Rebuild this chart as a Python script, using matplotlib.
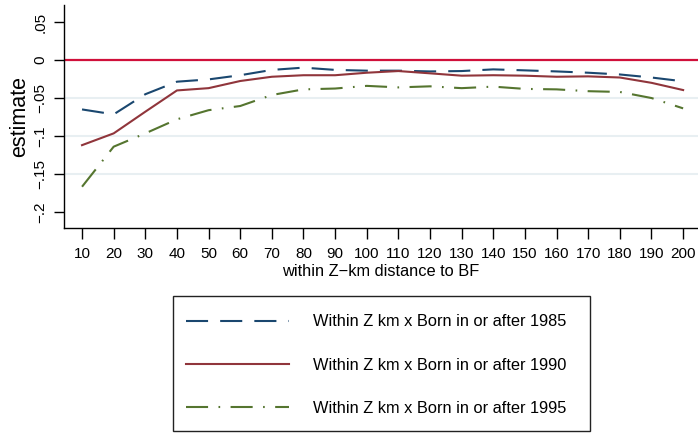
import numpy as np
import matplotlib.pyplot as plt
from matplotlib.patches import Rectangle

plt.rcParams['font.family'] = ['Liberation Sans', 'DejaVu Sans']

# distance bands (km) and estimates for each birth cohort cut-off
distance = [10, 20, 30, 40, 50, 60, 70, 80, 90, 100,
            110, 120, 130, 140, 150, 160, 170, 180, 190, 200]
est_1985 = [-0.065, -0.0715, -0.045, -0.0285, -0.0255, -0.020, -0.013, -0.010, -0.013, -0.014,
            -0.014, -0.015, -0.0145, -0.0123, -0.0136, -0.015, -0.0167, -0.019, -0.023, -0.028]
est_1990 = [-0.112, -0.0965, -0.068, -0.040, -0.037, -0.0276, -0.022, -0.020, -0.020, -0.0167,
            -0.0145, -0.0175, -0.0206, -0.020, -0.0206, -0.022, -0.0215, -0.023, -0.030, -0.0395]
est_1995 = [-0.1667, -0.114, -0.0965, -0.078, -0.066, -0.0605, -0.046, -0.0386, -0.0375, -0.034,
            -0.036, -0.0346, -0.037, -0.035, -0.038, -0.0386, -0.041, -0.042, -0.050, -0.0636]
labels = ['Within Z km x Born in or after 1985',
          'Within Z km x Born in or after 1990',
          'Within Z km x Born in or after 1995']

yticks = [0.05, 0, -0.05, -0.1, -0.15, -0.2]
ytick_labels = ['.05', '0', '\u2212.05', '\u2212.1', '\u2212.15', '\u2212.2']

W, H = 698, 434
fig = plt.figure(figsize=(W / 100, H / 100), dpi=100)
ax = fig.add_axes([64 / W, 1 - 228 / H, 1 - 64 / W, 223 / H])

# light horizontal grid at interior ticks
for g in [-0.05, -0.1, -0.15]:
    ax.axhline(g, color='#e8eff2', lw=1.5, zorder=0)

ax.axhline(0, color='#d0103a', lw=1.6, zorder=1)

lw = 1.5
l1, = ax.plot(distance, est_1985, color='#1a476f', lw=lw, linestyle=(0, (10.6, 5.8)))
l2, = ax.plot(distance, est_1990, color='#90353b', lw=lw, linestyle='-')
l3, = ax.plot(distance, est_1995, color='#55752f', lw=lw, linestyle=(0, (10.6, 5.0, 0.8, 5.0)))

ax.set_xlim(4.3, 204.7)
ax.set_ylim(-0.221, 0.0724)
ax.set_xticks(distance)
ax.set_yticks(yticks)
ax.set_yticklabels(ytick_labels, rotation=90, va='center')
ax.tick_params(axis='x', length=8, width=1, labelsize=11, pad=6)
ax.tick_params(axis='y', length=7.5, width=1, labelsize=11, pad=4.5)

for side in ['top', 'right']:
    ax.spines[side].set_visible(False)
for side in ['left', 'bottom']:
    ax.spines[side].set_linewidth(1)

ax.set_xlabel('within Z\u2212km distance to BF', fontsize=11.8, labelpad=2)
ax.set_ylabel('estimate', fontsize=15.5, labelpad=2.5)

# legend entries without frame; the box is drawn separately so the
# padding on the right can be wider than on the left
leg = fig.legend([l1, l2, l3], labels, loc='upper left',
                 bbox_to_anchor=(186 / W, 1 - 314.5 / H),
                 fontsize=11.8, frameon=False, handlelength=6.28,
                 handletextpad=1.46, labelspacing=1.73,
                 borderpad=0, borderaxespad=0)
fig.add_artist(Rectangle((173 / W, 1 - 431 / H), 417 / W, 135 / H,
                         transform=fig.transFigure, fill=False,
                         edgecolor='#222222', lw=1))

fig.savefig('out.png', dpi=100)
